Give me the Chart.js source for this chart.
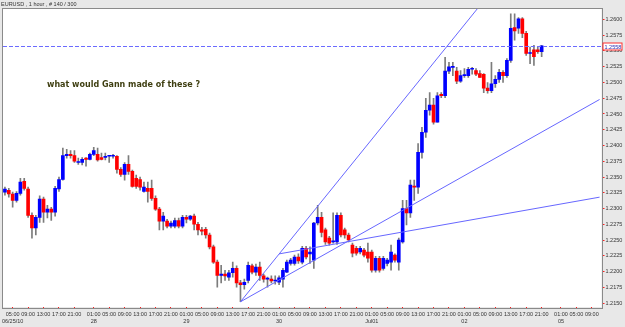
<!DOCTYPE html>
<html>
<head>
<meta charset="utf-8">
<script src="https://cdn.jsdelivr.net/npm/chart.js@4/dist/chart.umd.min.js"></script>
<style>
  html, body { margin: 0; padding: 0; background: #e8e8e8; }
  #wrap { width: 625px; height: 327px; }
</style>
</head>
<body>
<div id="wrap"><canvas id="eurusd-chart" width="625" height="327"></canvas></div>
<script>
// EURUSD, 1 hour, bars from 06/25/10 03:00 to 07/02/10 21:00
const opens = [
    1.2326, 1.2329, 1.2323, 1.2313, 1.2324, 1.2343, 1.2331, 1.2289, 1.2269, 1.2286,
    1.2315, 1.2294, 1.2299, 1.2294, 1.2331, 1.2346, 1.2384, 1.2386, 1.2384, 1.2373,
    1.2373, 1.2380, 1.2378, 1.2386, 1.2386, 1.2381, 1.2381, 1.2383, 1.2383, 1.2383,
    1.2362, 1.2354, 1.2370, 1.2359, 1.2348, 1.2346, 1.2327, 1.2332, 1.2332, 1.2316,
    1.2299, 1.2280, 1.2280, 1.2272, 1.2272, 1.2281, 1.2272, 1.2286, 1.2283, 1.2288,
    1.2275, 1.2266, 1.2267, 1.2258, 1.2239, 1.2215, 1.2194, 1.2196, 1.2191, 1.2198,
    1.2205, 1.2182, 1.2179, 1.2186, 1.2209, 1.2199, 1.2207, 1.2193, 1.2188, 1.2188,
    1.2185, 1.2183, 1.2188, 1.2199, 1.2213, 1.2213, 1.2223, 1.2215, 1.2237, 1.2228,
    1.2218, 1.2277, 1.2286, 1.2266, 1.2253, 1.2247, 1.2247, 1.2289, 1.2266, 1.2258,
    1.2242, 1.2237, 1.2231, 1.2234, 1.2231, 1.2231, 1.2202, 1.2221, 1.2205, 1.2213,
    1.2215, 1.2226, 1.2215, 1.2247, 1.2300, 1.2293, 1.2335, 1.2334, 1.2389, 1.2421,
    1.2456, 1.2464, 1.2437, 1.2481, 1.2479, 1.2518, 1.2524, 1.2518, 1.2502, 1.2511,
    1.2511, 1.2521, 1.2519, 1.2514, 1.2513, 1.2491, 1.2487, 1.2498, 1.2505, 1.2516,
    1.2511, 1.2535, 1.2587, 1.2586, 1.2601, 1.2578, 1.2546, 1.2552, 1.2552, 1.2549
];
const highs = [
    1.2334, 1.2332, 1.2326, 1.2327, 1.2348, 1.2348, 1.2334, 1.2293, 1.2289, 1.2320,
    1.2318, 1.2305, 1.2302, 1.2335, 1.2350, 1.2396, 1.2394, 1.2392, 1.2392, 1.2380,
    1.2381, 1.2381, 1.2388, 1.2397, 1.2396, 1.2388, 1.2388, 1.2384, 1.2386, 1.2384,
    1.2365, 1.2373, 1.2384, 1.2361, 1.2353, 1.2350, 1.2342, 1.2342, 1.2345, 1.2320,
    1.2302, 1.2294, 1.2283, 1.2280, 1.2285, 1.2285, 1.2289, 1.2289, 1.2289, 1.2291,
    1.2278, 1.2270, 1.2270, 1.2261, 1.2242, 1.2218, 1.2210, 1.2202, 1.2202, 1.2215,
    1.2209, 1.2186, 1.2188, 1.2215, 1.2212, 1.2212, 1.2215, 1.2196, 1.2191, 1.2193,
    1.2193, 1.2193, 1.2205, 1.2218, 1.2221, 1.2226, 1.2228, 1.2240, 1.2240, 1.2239,
    1.2278, 1.2305, 1.2294, 1.2269, 1.2256, 1.2293, 1.2293, 1.2293, 1.2269, 1.2261,
    1.2245, 1.2240, 1.2240, 1.2237, 1.2245, 1.2234, 1.2224, 1.2224, 1.2224, 1.2221,
    1.2242, 1.2228, 1.2253, 1.2313, 1.2313, 1.2345, 1.2345, 1.2403, 1.2429, 1.2475,
    1.2484, 1.2475, 1.2484, 1.2484, 1.2540, 1.2532, 1.2532, 1.2524, 1.2519, 1.2522,
    1.2524, 1.2524, 1.2522, 1.2519, 1.2514, 1.2500, 1.2532, 1.2511, 1.2521, 1.2519,
    1.2538, 1.2609, 1.2609, 1.2603, 1.2603, 1.2581, 1.2556, 1.2559, 1.2556, 1.2559
];
const lows = [
    1.2321, 1.2318, 1.2302, 1.2310, 1.2321, 1.2329, 1.2286, 1.2253, 1.2258, 1.2278,
    1.2278, 1.2285, 1.2281, 1.2288, 1.2327, 1.2345, 1.2380, 1.2380, 1.2373, 1.2370,
    1.2369, 1.2367, 1.2377, 1.2384, 1.2375, 1.2377, 1.2377, 1.2373, 1.2380, 1.2356,
    1.2351, 1.2345, 1.2354, 1.2334, 1.2332, 1.2329, 1.2326, 1.2310, 1.2313, 1.2297,
    1.2266, 1.2266, 1.2269, 1.2269, 1.2269, 1.2269, 1.2269, 1.2277, 1.2281, 1.2266,
    1.2258, 1.2258, 1.2253, 1.2236, 1.2213, 1.2175, 1.2182, 1.2186, 1.2186, 1.2191,
    1.2175, 1.2152, 1.2172, 1.2182, 1.2196, 1.2194, 1.2186, 1.2183, 1.2175, 1.2182,
    1.2180, 1.2179, 1.2175, 1.2198, 1.2210, 1.2210, 1.2213, 1.2212, 1.2220, 1.2213,
    1.2205, 1.2274, 1.2255, 1.2243, 1.2242, 1.2245, 1.2243, 1.2255, 1.2253, 1.2247,
    1.2223, 1.2226, 1.2228, 1.2223, 1.2215, 1.2199, 1.2199, 1.2199, 1.2202, 1.2209,
    1.2202, 1.2215, 1.2202, 1.2245, 1.2274, 1.2286, 1.2313, 1.2324, 1.2380, 1.2413,
    1.2448, 1.2434, 1.2437, 1.2476, 1.2476, 1.2514, 1.2511, 1.2498, 1.2500, 1.2508,
    1.2508, 1.2513, 1.2511, 1.2508, 1.2484, 1.2483, 1.2484, 1.2492, 1.2500, 1.2500,
    1.2508, 1.2532, 1.2567, 1.2578, 1.2571, 1.2543, 1.2530, 1.2527, 1.2546, 1.2541
];
const closes = [
    1.2331, 1.2323, 1.2313, 1.2324, 1.2342, 1.2332, 1.2289, 1.2269, 1.2286, 1.2315,
    1.2294, 1.2299, 1.2294, 1.2332, 1.2346, 1.2384, 1.2386, 1.2384, 1.2375, 1.2373,
    1.2378, 1.2378, 1.2386, 1.2392, 1.2377, 1.2378, 1.2383, 1.2383, 1.2383, 1.2362,
    1.2354, 1.2370, 1.2359, 1.2335, 1.2335, 1.2334, 1.2334, 1.2327, 1.2316, 1.2299,
    1.2280, 1.2288, 1.2272, 1.2277, 1.2281, 1.2272, 1.2286, 1.2283, 1.2288, 1.2275,
    1.2266, 1.2264, 1.2258, 1.2239, 1.2215, 1.2194, 1.2196, 1.2193, 1.2198, 1.2205,
    1.2182, 1.2179, 1.2183, 1.2210, 1.2199, 1.2207, 1.2194, 1.2188, 1.2188, 1.2185,
    1.2186, 1.2190, 1.2202, 1.2215, 1.2218, 1.2223, 1.2217, 1.2237, 1.2223, 1.2231,
    1.2277, 1.2286, 1.2262, 1.2247, 1.2245, 1.2248, 1.2289, 1.2258, 1.2258, 1.2250,
    1.2229, 1.2229, 1.2237, 1.2226, 1.2221, 1.2202, 1.2221, 1.2202, 1.2221, 1.2218,
    1.2231, 1.2218, 1.2250, 1.2300, 1.2293, 1.2337, 1.2334, 1.2389, 1.2421, 1.2456,
    1.2464, 1.2437, 1.2479, 1.2479, 1.2518, 1.2525, 1.2525, 1.2502, 1.2511, 1.2511,
    1.2521, 1.2521, 1.2513, 1.2508, 1.2491, 1.2487, 1.2498, 1.2505, 1.2516, 1.2511,
    1.2535, 1.2586, 1.2582, 1.2601, 1.2578, 1.2546, 1.2546, 1.2541, 1.2549, 1.2558
];

// hourly slots incl. the empty space on the right
const slotCount = 155;

// time axis labels: slot index, hour, day
const tickSlots = [2, 6, 10, 14, 18, 23, 27, 31, 35, 39, 43, 47, 51, 55, 59, 63, 67,
    71, 75, 79, 83, 87, 91, 95, 99, 103, 107, 111, 115, 119, 123, 127, 131, 135, 139,
    144, 148, 152];
const tickHours = ['05:00', '09:00', '13:00', '17:00', '21:00',
    '01:00', '05:00', '09:00', '13:00', '17:00', '21:00',
    '01:00', '05:00', '09:00', '13:00', '17:00', '21:00',
    '01:00', '05:00', '09:00', '13:00', '17:00', '21:00',
    '01:00', '05:00', '09:00', '13:00', '17:00', '21:00',
    '01:00', '05:00', '09:00', '13:00', '17:00', '21:00',
    '01:00', '05:00', '09:00'];
const tickDays = ['06/25/10', '', '', '', '',
    '28', '', '', '', '', '',
    '29', '', '', '', '', '',
    '30', '', '', '', '', '',
    'Jul01', '', '', '', '', '',
    '02', '', '', '', '', '',
    '05', '', ''];

// Gann fan lines: from slot/price to slot/price
const fanFromSlot = [61, 61, 71];
const fanFromPrice = [1.2152, 1.2152, 1.2228];
const fanToSlot = [130, 154, 154];
const fanToPrice = [1.2675, 1.2473, 1.2318];

const yMin = 1.21437;
const yMax = 1.26174;
const yStep = 0.0025;

const symbolText = 'EURUSD , 1 hour , # 140 / 300';
const noteText = 'what would Gann made of these ?';


function buildFanDatasets() {
    return fanFromSlot.map((from, k) => {
        const data = new Array(slotCount).fill(null);
        data[from] = fanFromPrice[k];
        data[fanToSlot[k]] = fanToPrice[k];
        return {
            type: 'line',
            data: data,
            borderColor: '#6767ff',
            borderWidth: 1,
            pointRadius: 0,
            spanGaps: true,
            order: 0
        };
    });
}


const chartDecor = {
    id: 'chartDecor',
    beforeDraw(chart) {
        const { ctx, chartArea: a } = chart;
        ctx.save();
        ctx.fillStyle = '#e8e8e8';
        ctx.fillRect(0, 0, chart.width, chart.height);
        ctx.fillStyle = '#ffffff';
        ctx.fillRect(a.left, a.top, a.right - a.left, a.bottom - a.top);
        ctx.restore();
    },
    afterDatasetsDraw(chart) {
        const { ctx, chartArea: a } = chart;
        const py = Math.round(chart.scales.y.getPixelForValue(closes[closes.length - 1])) + 0.5;
        ctx.save();
        ctx.strokeStyle = '#6b6bff';
        ctx.lineWidth = 1;
        ctx.setLineDash([4, 2]);
        ctx.beginPath();
        ctx.moveTo(a.left, py);
        ctx.lineTo(a.right, py);
        ctx.stroke();
        ctx.restore();
    },
    afterDraw(chart) {
        const { ctx, chartArea: a } = chart;
        ctx.save();
        // frame
        ctx.strokeStyle = '#8a8a8a';
        ctx.lineWidth = 1;
        ctx.strokeRect(Math.round(a.left) - 0.5, Math.round(a.top) - 0.5,
            Math.round(a.right - a.left) + 1, Math.round(a.bottom - a.top) + 1);

        // symbol caption
        ctx.fillStyle = '#333333';
        ctx.font = '5.5px "Liberation Sans"';
        ctx.textBaseline = 'middle';
        ctx.fillText(symbolText, 1, 4);

        // note
        ctx.fillStyle = '#3f3f12';
        ctx.font = 'bold 8px "DejaVu Sans"';
        ctx.fillText(noteText, 47, 85);

        // current price box
        const last = closes[closes.length - 1];
        const py = Math.round(chart.scales.y.getPixelForValue(last)) + 0.5;
        ctx.fillStyle = '#ffffff';
        ctx.fillRect(a.right + 1.5, py - 3.5, 19, 7);
        ctx.strokeStyle = '#ff3030';
        ctx.strokeRect(a.right + 1.5, py - 3.5, 19, 7);
        ctx.fillStyle = '#2a2ab0';
        ctx.font = '5.5px "Liberation Sans"';
        ctx.fillText(last.toFixed(4), a.right + 3, py + 0.5);
        ctx.restore();
    }
};


function initChart() {
    const ctx = document.getElementById('eurusd-chart').getContext('2d');
    const up = (i) => closes[i] >= opens[i];
    return new Chart(ctx, {
        type: 'bar',
        data: {
            labels: Array.from({ length: slotCount }, (_, i) => i),
            datasets: [
                ...buildFanDatasets(),
                {
                    label: 'body',
                    data: opens.map((o, i) => [o, closes[i]]),
                    backgroundColor: opens.map((o, i) => up(i) ? '#0000ff' : '#ff0000'),
                    barThickness: 3,
                    minBarLength: 1,
                    grouped: false,
                    order: 1
                },
                {
                    label: 'wick',
                    data: lows.map((l, i) => [l, highs[i]]),
                    backgroundColor: '#7c7c7c',
                    barThickness: 1,
                    grouped: false,
                    order: 2
                }
            ]
        },
        options: {
            responsive: false,
            animation: false,
            devicePixelRatio: 1,
            layout: { padding: { left: 3, top: 8.5, right: 0, bottom: 0 } },
            scales: {
                x: {
                    offset: true,
                    grid: {
                        offset: false,
                        drawOnChartArea: false,
                        tickLength: 2,
                        color: (c) => tickSlots.includes(c.index) ? '#ff2020' : 'rgba(0,0,0,0)'
                    },
                    border: { display: false },
                    ticks: {
                        autoSkip: false,
                        maxRotation: 0,
                        minRotation: 0,
                        padding: 1,
                        color: '#333333',
                        font: { family: 'Liberation Sans', size: 5.5, lineHeight: 1.45 },
                        callback: function(value, index) {
                            const k = tickSlots.indexOf(index);
                            if (k < 0) return '';
                            return tickDays[k] ? [tickHours[k], tickDays[k]] : tickHours[k];
                        }
                    },
                    afterFit: (scale) => { scale.height = 20; }
                },
                y: {
                    position: 'right',
                    min: yMin,
                    max: yMax,
                    grid: {
                        drawOnChartArea: false,
                        tickLength: 3,
                        color: '#ff2020'
                    },
                    border: { display: false },
                    ticks: {
                        stepSize: yStep,
                        includeBounds: false,
                        padding: 1,
                        color: '#333333',
                        font: { family: 'Liberation Sans', size: 5.5 },
                        callback: (v) => v.toFixed(4)
                    },
                    afterFit: (scale) => { scale.width = 23.5; }
                }
            },
            plugins: {
                legend: { display: false },
                tooltip: { enabled: false }
            }
        },
        plugins: [chartDecor]
    });
}


document.addEventListener('DOMContentLoaded', function() {
    initChart();
});
</script>
</body>
</html>
